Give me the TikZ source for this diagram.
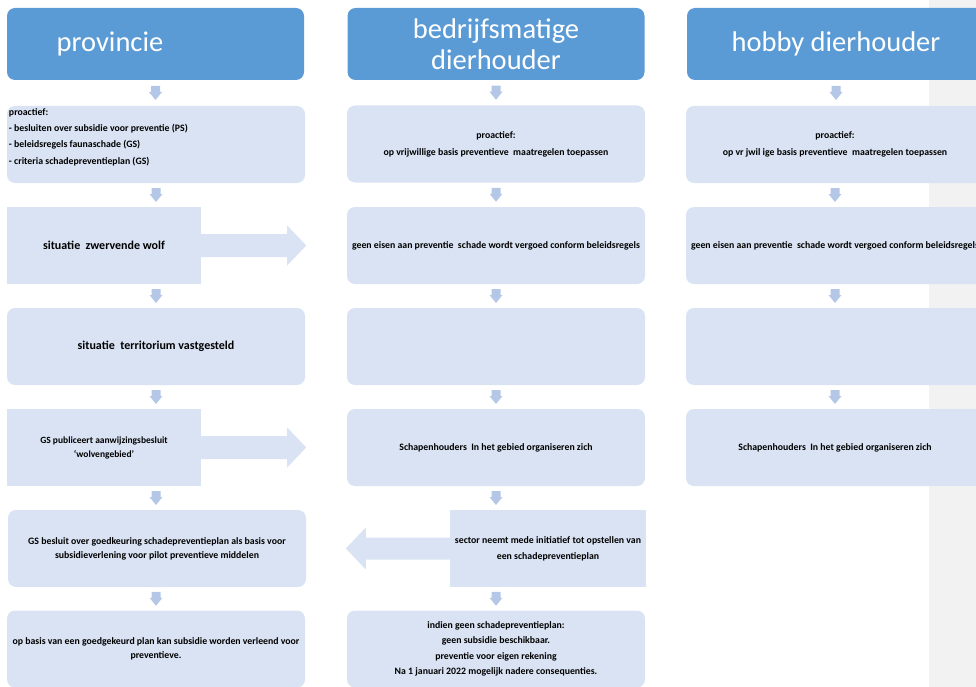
\documentclass[tikz,border=0pt]{standalone}
\usepackage{fontspec}
\setmainfont{Carlito}
\usetikzlibrary{calc}
\definecolor{hdrblue}{HTML}{5B9BD5}
\definecolor{boxblue}{HTML}{DAE3F3}
\definecolor{arrblue}{HTML}{B4C7E7}
\definecolor{bandgrey}{HTML}{F2F2F2}
\newcommand\darr[3]{%
  \path ($(#1.south)!0.5!(#2.north)$) coordinate (m);
  \fill[arrblue] ($(#3.center|-m)+(-4.5,-7)$) -- ++(9,0) -- ++(0,6) -- ++(2,0)
    -- ($(#3.center|-m)+(0,7)$) -- ++(-6.5,-8) -- ++(2,0) -- cycle;}
\newcommand\arrR[1]{%
  \fill[boxblue] ($(#1.east)+(-1,-11.5)$) -- ($(#1.east)+(86,-11.5)$) -- ($(#1.east)+(86,-20)$)
    -- ($(#1.east)+(105,0)$) -- ($(#1.east)+(86,20)$) -- ($(#1.east)+(86,11.5)$)
    -- ($(#1.east)+(-1,11.5)$) -- cycle;}
\newcommand\arrL[1]{%
  \fill[boxblue] ($(#1.west)+(1,-11)$) -- ($(#1.west)+(-84,-11)$) -- ($(#1.west)+(-84,-21)$)
    -- ($(#1.west)+(-104,0)$) -- ($(#1.west)+(-84,21)$) -- ($(#1.west)+(-84,11)$)
    -- ($(#1.west)+(1,11)$) -- cycle;}
\begin{document}
\begin{tikzpicture}[x=1pt,y=-1pt,
  hdr/.style={fill=hdrblue, rounded corners=8pt, minimum width=297pt, minimum height=72pt,
    inner sep=0pt, text=white, align=center, font=\fontsize{28.5}{31}\selectfont},
  hdrtext/.style={text=white, inner sep=0pt, align=center, font=\fontsize{28.5}{31}\selectfont},
  rbox/.style={fill=boxblue, rounded corners=8pt, minimum width=298pt, minimum height=77pt,
    inner sep=0pt, align=center, font=\fontsize{9.8}{16}\selectfont\bfseries},
  sbox/.style={rbox, sharp corners},
  bigtext/.style={font=\fontsize{12}{14}\selectfont\bfseries},
  tight/.style={font=\fontsize{9.8}{14}\selectfont\bfseries},
]
\useasboundingbox (0,0) rectangle (976,687);
\clip (0,0) rectangle (976,687);
\fill[bandgrey] (929,0) rectangle (976,687);

% headers
\node[hdr] (h1) at (155.5,44) {};
\node[hdrtext] (h1t) at (110,44) {provincie};
\node[hdr] (h2) at (496,44) {bedrijfsmatige\\dierhouder};
\node[hdr, minimum width=298pt] (h3) at (836,44) {hobby dierhouder};

% column 1
\node[rbox] (b11) at (156,144.5) {\begin{minipage}[c][77pt][t]{294pt}\raggedright
  \fontsize{9.8}{16.3}\selectfont\bfseries\vspace{2.5pt}proactief:\\
  - besluiten over subsidie voor preventie (PS)\\
  - beleidsregels faunaschade (GS)\\
  - criteria schadepreventieplan (GS)\end{minipage}};
\node[sbox, bigtext, minimum width=194pt] (b12) at (104,245.5) {situatie~ zwervende wolf};
\node[rbox, bigtext] (b13) at (156,346.5) {situatie~ territorium vastgesteld};
\node[sbox, tight, font=\fontsize{9.5}{14}\selectfont\bfseries, minimum width=194pt] (b14) at (104,447.5) {GS publiceert aanwijzingsbesluit\\‘wolvengebied’};
\node[rbox, tight] (b15) at (157,548.5) {GS besluit over goedkeuring schadepreventieplan als basis voor\\subsidieverlening voor pilot preventieve middelen};
\node[rbox, tight] (b16) at (156,649) {op basis van een goedgekeurd plan kan subsidie worden verleend voor\\preventieve.};

% column 2
\node[rbox, font=\fontsize{9.8}{17}\selectfont\bfseries] (b21) at (496,144) {proactief:\\op vrijwillige basis preventieve~ maatregelen toepassen};
\node[rbox] (b22) at (496,245.5) {geen eisen aan preventie~ schade wordt vergoed conform beleidsregels};
\node[rbox] (b23) at (496,346.5) {};
\node[rbox] (b24) at (496,447.5) {Schapenhouders~ In het gebied organiseren zich};
\node[sbox, minimum width=196pt] (b25) at (548,548.5) {sector neemt mede initiatief tot opstellen van\\een schadepreventieplan};
\node[rbox, font=\fontsize{9.8}{15.5}\selectfont\bfseries] (b26) at (496,649) {indien geen schadepreventieplan:\\geen subsidie beschikbaar.\\preventie voor eigen rekening\\Na 1 januari 2022 mogelijk nadere consequenties.};

% column 3
\node[rbox, font=\fontsize{9.8}{17}\selectfont\bfseries] (b31) at (835,144.5) {proactief:\\op vr jwil ige basis preventieve~ maatregelen toepassen};
\node[rbox] (b32) at (835,245.5) {geen eisen aan preventie~ schade wordt vergoed conform beleidsregels};
\node[rbox] (b33) at (835,346.5) {};
\node[rbox] (b34) at (835,447.5) {Schapenhouders~ In het gebied organiseren zich};

% big arrows
\arrR{b12}
\arrR{b14}
\arrL{b25}

% small down arrows
\darr{h1}{b11}{h1}
\darr{b11}{b12}{b11}
\darr{b12}{b13}{b13}
\darr{b13}{b14}{b13}
\darr{b14}{b15}{b13}
\darr{b15}{b16}{b13}

\darr{h2}{b21}{h2}
\darr{b21}{b22}{b21}
\darr{b22}{b23}{b22}
\darr{b23}{b24}{b23}
\darr{b24}{b25}{b24}
\darr{b25}{b26}{b26}

\darr{h3}{b31}{h3}
\darr{b31}{b32}{b31}
\darr{b32}{b33}{b32}
\darr{b33}{b34}{b33}
\end{tikzpicture}
\end{document}
